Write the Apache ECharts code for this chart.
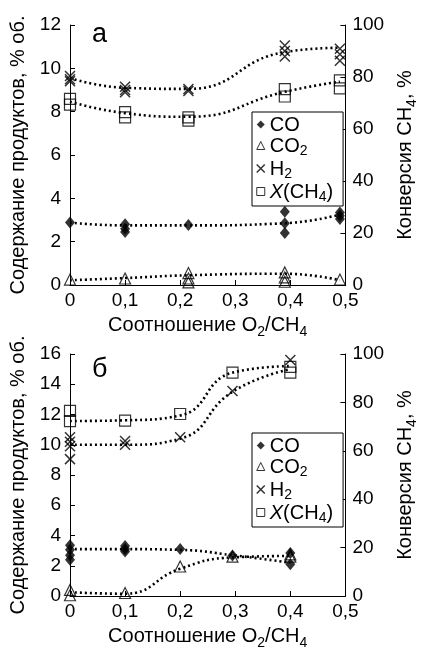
<!DOCTYPE html>
<html>
<head>
<meta charset="utf-8">
<script src="https://cdn.jsdelivr.net/npm/echarts@6/dist/echarts.min.js"></script>
<style>
  html, body { margin: 0; padding: 0; background: #fff; }
  #chart { width: 427px; height: 651px; }
</style>
</head>
<body>
<div id="chart"></div>
<script>
// panel "а": O2/CH4 ratio and measured values (several runs per point)
const xA = [0, 0.1, 0.215, 0.39, 0.49];
const coA = [[2.88], [2.8, 2.6, 2.45], [2.77], [3.38, 2.85, 2.4], [3.35, 3.2, 3.05]];
const co2A = [[0.25], [0.3], [0.55, 0.3, 0.12], [0.58, 0.35, 0.15], [0.25]];
const h2A = [[9.65, 9.5, 9.4], [9.15, 9.0, 8.9], [9.05, 8.95], [11.05, 10.8, 10.55], [10.9, 10.65, 10.35]];
const convA = [[71.6, 69.4], [66.5, 64.5], [64.5, 63.2], [75.3, 72.5], [78.7, 75.6]];
// trend lines, panel "а"
const coLineA = [2.88, 2.75, 2.75, 2.85, 3.25];
const co2LineA = [0.22, 0.32, 0.45, 0.52, 0.22];
const h2LineA = [9.55, 9.1, 9.05, 10.75, 10.95];
const convLineA = [70.5, 66.1, 64.7, 74.3, 78.2];

// panel "б"
const xB = [0, 0.1, 0.2, 0.295, 0.4];
const coB = [[3.35, 3.05, 2.7, 2.4], [3.3, 3.1, 2.95], [3.1], [2.68], [2.85, 2.1]];
const co2B = [[0.4, 0.05], [0.2], [1.95], [2.6], [2.75, 2.6]];
const h2B = [[10.5, 10.2, 9.9, 9.05], [10.25, 10.0], [10.5], [13.55], [15.6]];
const convB = [[76.5, 72.3], [72.5], [75.2], [92.3], [94.7, 92.3]];
const coLineB = [3.1, 3.1, 3.05, 2.7, 2.2];
const co2LineB = [0.25, 0.15, 1.8, 2.55, 2.65];
const h2LineB = [10.0, 10.0, 10.4, 13.5, 15.0];
const convLineB = [72.3, 72.6, 74.6, 92.3, 95.0];

const xTickLabels = ['0', '0,1', '0,2', '0,3', '0,4', '0,5'];

const FONT = 'Liberation Sans, Arial, sans-serif';
const crossPath = 'path://M0,0L10,10M10,0L0,10';

const rich = {
  n: { fontSize: 20, fontFamily: FONT, color: '#000', lineHeight: 23, verticalAlign: 'top' },
  s: { fontSize: 14, fontFamily: FONT, color: '#000', lineHeight: 14, verticalAlign: 'top', padding: [10, 0, 0, 0] }
};
const legendRich = {
  n: { fontSize: 20, fontFamily: FONT, color: '#000', lineHeight: 19, verticalAlign: 'top' },
  i: { fontSize: 20, fontFamily: FONT, color: '#000', lineHeight: 19, verticalAlign: 'top', fontStyle: 'italic' },
  s: { fontSize: 14, fontFamily: FONT, color: '#000', lineHeight: 13, verticalAlign: 'top', padding: [8, 0, 0, 0] }
};
const legendText = {
  CO: '{n|CO}',
  CO2: '{n|CO}{s|2}',
  H2: '{n|H}{s|2}',
  X: '{i|X}{n|(CH}{s|4}{n|)}'
};

function pairs(xs, groups) {
  const out = [];
  groups.forEach((g, i) => g.forEach(v => out.push([xs[i], v])));
  return out;
}
function line(xs, ys) {
  return xs.map((x, i) => [x, ys[i]]);
}

const hollow = { color: 'transparent', borderColor: '#000', borderWidth: 1.2 };

function panelSeries(k, xs, co, co2, h2, conv, coL, co2L, h2L, convL) {
  const yl = k * 2, yr = k * 2 + 1;
  const dots = { color: '#000', width: 2.6, type: [2, 3] };
  const trend = (data, yi) => ({
    type: 'line', xAxisIndex: k, yAxisIndex: yi, data: data, smooth: true,
    symbol: 'none', lineStyle: dots, silent: true, z: 1
  });
  return [
    trend(line(xs, coL), yl),
    trend(line(xs, co2L), yl),
    trend(line(xs, h2L), yl),
    trend(line(xs, convL), yr),
    { name: 'CO', type: 'scatter', xAxisIndex: k, yAxisIndex: yl, data: pairs(xs, co),
      symbol: 'diamond', symbolSize: [10, 12], itemStyle: { color: '#000' }, z: 3 },
    { name: 'CO2', type: 'scatter', xAxisIndex: k, yAxisIndex: yl, data: pairs(xs, co2),
      symbol: 'triangle', symbolSize: 11, itemStyle: hollow, z: 3 },
    { name: 'H2', type: 'scatter', xAxisIndex: k, yAxisIndex: yl, data: pairs(xs, h2),
      symbol: crossPath, symbolSize: 10, itemStyle: { color: 'transparent', borderColor: '#000', borderWidth: 1.5 }, z: 3 },
    { name: 'X', type: 'scatter', xAxisIndex: k, yAxisIndex: yr, data: pairs(xs, conv),
      symbol: 'rect', symbolSize: 11, itemStyle: hollow, z: 3 }
  ];
}

const axisBase = {
  axisLine: { lineStyle: { color: '#000', width: 1 } },
  axisTick: { inside: true, length: 5, lineStyle: { color: '#000' } },
  splitLine: { show: false },
  axisLabel: { color: '#000', fontSize: 19, fontFamily: FONT }
};

function xAxis(k) {
  return Object.assign({}, axisBase, {
    type: 'value', gridIndex: k, min: 0, max: 0.5, interval: 0.1,
    axisLabel: Object.assign({}, axisBase.axisLabel, {
      margin: 6, formatter: v => xTickLabels[Math.round(v * 10)]
    }),
    name: '{n|Соотношение O}{s|2}{n|/CH}{s|4}',
    nameLocation: 'middle', nameGap: 30,
    nameTextStyle: { rich: rich }
  });
}
function yLeft(k, max) {
  return Object.assign({}, axisBase, {
    type: 'value', gridIndex: k, position: 'left', min: 0, max: max, interval: 2,
    axisLabel: Object.assign({}, axisBase.axisLabel, { margin: 9 }),
    name: 'Содержание продуктов, % об.', nameLocation: 'middle', nameGap: 38, nameRotate: 90,
    nameTextStyle: { color: '#000', fontSize: 20, fontFamily: FONT }
  });
}
function yRight(k) {
  return Object.assign({}, axisBase, {
    type: 'value', gridIndex: k, position: 'right', min: 0, max: 100, interval: 20,
    axisLabel: Object.assign({}, axisBase.axisLabel, { margin: 7 }),
    name: '{n|Конверсия CH}{s|4}{n|, %}', nameLocation: 'middle', nameGap: 42, nameRotate: 90,
    nameTextStyle: { rich: rich }
  });
}

function legend(top) {
  return {
    orient: 'vertical', left: 252, top: top,
    padding: [3, 10, 2, 4], itemGap: 1, itemWidth: 8, itemHeight: 8,
    borderColor: '#000', borderWidth: 1, backgroundColor: '#fff',
    selectedMode: false,
    formatter: name => legendText[name],
    textStyle: { rich: legendRich },
    data: [
      { name: 'CO', icon: 'diamond', itemStyle: { color: '#000' } },
      { name: 'CO2', icon: 'triangle', itemStyle: { color: 'transparent', borderColor: '#000', borderWidth: 1 } },
      { name: 'H2', icon: crossPath, itemStyle: { color: 'transparent', borderColor: '#000', borderWidth: 1.5 } },
      { name: 'X', icon: 'rect', itemStyle: { color: 'transparent', borderColor: '#000', borderWidth: 1 } }
    ]
  };
}

const chart = echarts.init(document.getElementById('chart'), null, { renderer: 'canvas' });
chart.setOption({
  animation: false,
  backgroundColor: '#fff',
  textStyle: { fontFamily: FONT },
  grid: [
    { left: 70, right: 65, top: 25, height: 260 },
    { left: 70, right: 65, top: 354, height: 245 }
  ],
  xAxis: [xAxis(0), xAxis(1)],
  yAxis: [yLeft(0, 12), yRight(0), yLeft(1, 16), yRight(1)],
  legend: [legend(112), legend(433)],
  graphic: [
    { type: 'text', left: 92, top: 21, style: { text: 'а', fontSize: 27, fontFamily: FONT, fill: '#000' } },
    { type: 'text', left: 92, top: 356, style: { text: 'б', fontSize: 27, fontFamily: FONT, fill: '#000' } }
  ],
  series: [].concat(
    panelSeries(0, xA, coA, co2A, h2A, convA, coLineA, co2LineA, h2LineA, convLineA),
    panelSeries(1, xB, coB, co2B, h2B, convB, coLineB, co2LineB, h2LineB, convLineB)
  )
});
</script>
</body>
</html>
